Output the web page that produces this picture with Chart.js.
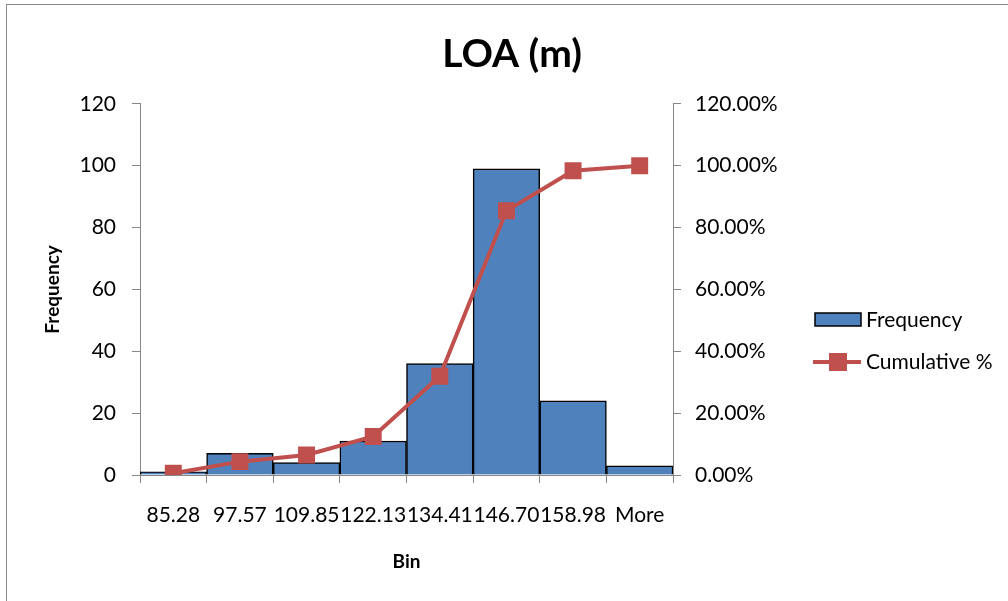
<!DOCTYPE html>
<html>
<head>
<meta charset="utf-8">
<script src="https://cdn.jsdelivr.net/npm/chart.js@4"></script>
<style>
  body { margin: 0; background: #fff; }
  #wrap { width: 1008px; height: 601px; }
</style>
</head>
<body>
<div id="wrap"><canvas id="loaChart"></canvas></div>
<script>
// histogram bins and counts
var bins = ["85.28", "97.57", "109.85", "122.13", "134.41", "146.70", "158.98", "More"];
var frequency = [1, 7, 4, 11, 36, 99, 24, 3];
var cumulative = [0.0054, 0.0432, 0.0649, 0.1243, 0.3189, 0.8541, 0.9838, 1.0];
var leftTicks = [0, 20, 40, 60, 80, 100, 120];

var FONT = "Lato, 'Open Sans', sans-serif";
var AXIS_GRAY = "#868686";
var BLUE = "#4F81BD";
var RED = "#C0504D";

// frame + legend drawn by hand, Excel style
var frameAndLegend = {
  id: "frameAndLegend",
  beforeDraw: function (chart) {
    var ctx = chart.ctx;
    ctx.save();
    ctx.fillStyle = "#fff";
    ctx.fillRect(0, 0, chart.width, chart.height);
    ctx.strokeStyle = "#8c8c8c";
    ctx.lineWidth = 1;
    ctx.strokeRect(6.5, 4.5, 1010, 610);
    ctx.restore();
  },
  afterDraw: function (chart) {
    var ctx = chart.ctx;
    ctx.save();
    // Frequency item
    ctx.fillStyle = BLUE;
    ctx.fillRect(815, 313, 46, 13);
    ctx.strokeStyle = "#000";
    ctx.lineWidth = 1.5;
    ctx.strokeRect(815, 313, 46, 13);
    // Cumulative item
    ctx.strokeStyle = RED;
    ctx.lineWidth = 4;
    ctx.beginPath();
    ctx.moveTo(813, 362);
    ctx.lineTo(861, 362);
    ctx.stroke();
    ctx.fillStyle = RED;
    ctx.fillRect(829, 353, 18, 18);
    ctx.fillStyle = "#000";
    ctx.font = "21px " + FONT;
    ctx.textBaseline = "middle";
    ctx.textAlign = "left";
    ctx.fillText(chart.data.datasets[0].label, 866, 320);
    ctx.fillText(chart.data.datasets[1].label, 866, 362);
    ctx.restore();
  }
};

new Chart(document.getElementById("loaChart"), {
  data: {
    labels: bins,
    datasets: [
      {
        type: "bar",
        label: "Frequency",
        data: frequency,
        backgroundColor: BLUE,
        borderColor: "#000",
        borderWidth: 1.5,
        categoryPercentage: 1.0,
        barPercentage: 1.0,
        yAxisID: "y",
        order: 2
      },
      {
        type: "line",
        label: "Cumulative %",
        data: cumulative,
        borderColor: RED,
        backgroundColor: RED,
        borderWidth: 4,
        pointStyle: "rect",
        pointRadius: 12,
        pointBackgroundColor: RED,
        pointBorderColor: RED,
        pointBorderWidth: 0,
        tension: 0,
        yAxisID: "y1",
        order: 1
      }
    ]
  },
  options: {
    responsive: true,
    maintainAspectRatio: false,
    animation: false,
    layout: { padding: { left: 16, top: 0, right: 0, bottom: 0 } },
    plugins: {
      legend: { display: false },
      tooltip: { enabled: false },
      title: {
        display: true,
        text: "LOA (m)",
        color: "#000",
        font: { family: FONT, size: 39, weight: "bold" },
        padding: { top: 31, bottom: 26 }
      }
    },
    scales: {
      x: {
        offset: true,
        grid: {
          offset: true,
          drawOnChartArea: false,
          color: AXIS_GRAY,
          tickLength: 8
        },
        border: { color: AXIS_GRAY, width: 1 },
        ticks: {
          color: "#000",
          font: { family: FONT, size: 21 },
          padding: 20,
          maxRotation: 0,
          autoSkip: false
        },
        title: {
          display: true,
          text: "Bin",
          color: "#000",
          font: { family: FONT, size: 19, weight: "bold" },
          padding: { top: 0, bottom: 28 }
        },
        afterFit: function (scale) { scale.height = 126; }
      },
      y: {
        position: "left",
        min: 0,
        max: 120,
        grid: { drawOnChartArea: false, color: AXIS_GRAY, tickLength: 8 },
        border: { color: AXIS_GRAY, width: 1 },
        ticks: {
          color: "#000",
          font: { family: FONT, size: 21 },
          padding: 16,
          stepSize: 20,
          callback: function (v) { return leftTicks.indexOf(v) >= 0 ? v : ""; }
        },
        title: {
          display: true,
          text: "Frequency",
          color: "#000",
          font: { family: FONT, size: 19, weight: "bold" },
          padding: { top: 25, bottom: 0 }
        },
        afterFit: function (scale) { scale.width = 124; }
      },
      y1: {
        position: "right",
        min: 0,
        max: 1.2,
        grid: { drawOnChartArea: false, color: AXIS_GRAY, tickLength: 8 },
        border: { color: AXIS_GRAY, width: 1 },
        ticks: {
          color: "#000",
          font: { family: FONT, size: 21 },
          padding: 14,
          stepSize: 0.2,
          callback: function (v) { return (v * 100).toFixed(2) + "%"; }
        },
        afterFit: function (scale) { scale.width = 335; }
      }
    }
  },
  plugins: [frameAndLegend]
});
</script>
</body>
</html>
